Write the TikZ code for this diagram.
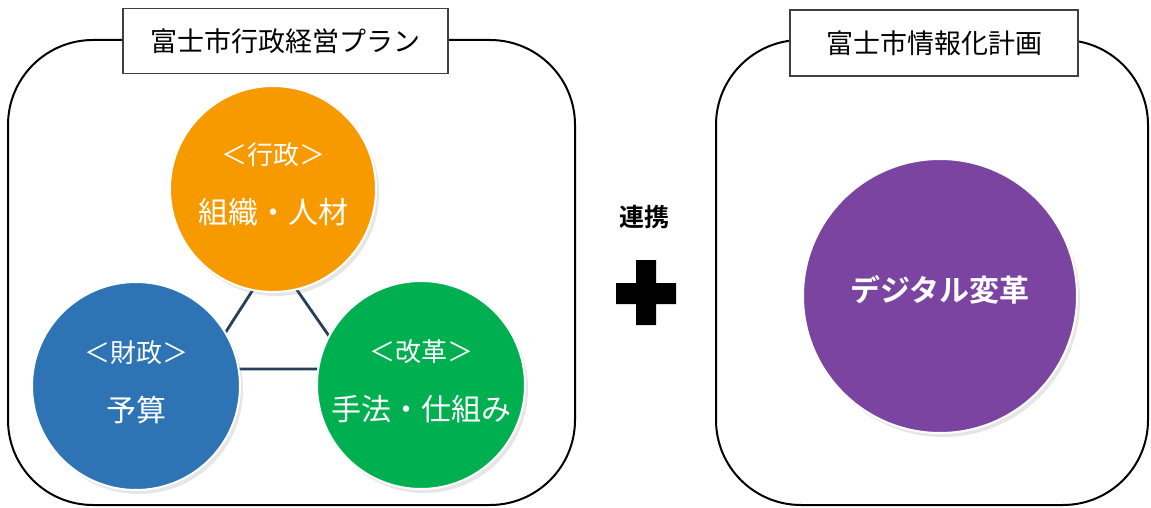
\documentclass[tikz,border=0pt]{standalone}
\usepackage{fontspec}
\setmainfont{Noto Sans CJK JP}
\newfontfamily\jpbold{Noto Sans CJK JP}[BoldFont=* Bold]
\usetikzlibrary{shadows}
\definecolor{cOrange}{HTML}{F79A00}
\definecolor{cBlue}{HTML}{2E74B5}
\definecolor{cGreen}{HTML}{00B050}
\definecolor{cPurple}{HTML}{7A44A0}
\definecolor{cLink}{HTML}{263F5A}
\tikzset{
  frame/.style={draw=black, line width=2pt, rounded corners=85pt, inner sep=0pt},
  titlebox/.style={draw=black!75, line width=1.2pt, fill=white, inner sep=0pt, font=\fontsize{27}{30}\selectfont},
  ball/.style={circle, draw=white, line width=2pt, inner sep=0pt,
    drop shadow={shadow xshift=3pt, shadow yshift=-4pt, opacity=0.2}},
  small/.style={text=white, font=\fontsize{26}{28}\selectfont, inner sep=0pt},
  big/.style={text=white, font=\fontsize{30}{32}\selectfont, inner sep=0pt},
  link/.style={draw=cLink, line width=2.8pt}
}
\begin{document}
\begin{tikzpicture}[x=1pt,y=-1pt]
\useasboundingbox (0,0) rectangle (1151,508);
% frames
\node[frame, minimum width=567pt, minimum height=465pt] (lframe) at (291.5,272.5) {};
\node[frame, minimum width=432pt, minimum height=465pt] (rframe) at (932,272.5) {};
\node[titlebox, minimum width=325pt, minimum height=65pt] (ltitle) at (285.5,41) {富士市行政経営プラン};
\node[titlebox, minimum width=288pt, minimum height=66pt] (rtitle) at (934,43) {富士市情報化計画};
% triangle of links behind the circles
\coordinate (vt) at (274,257);
\coordinate (vl) at (202,369);
\coordinate (vr) at (352,369);
\draw[link] (vt) -- (vl) (vt) -- (vr) (vl) -- (vr);
% circles
\node[ball, fill=cOrange, minimum size=206pt] (gyosei) at (273,189) {};
\node[ball, fill=cBlue, minimum size=208pt] (zaisei) at (136,386) {};
\node[ball, fill=cGreen, minimum size=208pt] (kaikaku) at (421,385) {};
\node[ball, fill=cPurple, minimum size=274pt] (dx) at (940,296) {};
% circle texts
\node[small] (t1a) at ([yshift=34pt]gyosei.center) {＜行政＞};
\node[big] (t1b) at ([yshift=-23pt]gyosei.center) {組織・人材};
\node[small] (t2a) at ([yshift=33pt]zaisei.center) {＜財政＞};
\node[big] (t2b) at ([yshift=-24pt]zaisei.center) {予算};
\node[small] (t3a) at ([yshift=33pt]kaikaku.center) {＜改革＞};
\node[big] (t3b) at ([yshift=-24pt]kaikaku.center) {手法・仕組み};
\node[text=white, inner sep=0pt, font=\jpbold\bfseries\fontsize{30}{32}\selectfont] (t4) at ([yshift=6pt]dx.center) {デジタル変革};
% link label and plus
\node[inner sep=0pt, font=\jpbold\bfseries\fontsize{25}{27}\selectfont] (renkei) at (644,217) {連携};
\fill[black] (636,260) rectangle (656,325) (616,283) rectangle (676,304);
\end{tikzpicture}
\end{document}
